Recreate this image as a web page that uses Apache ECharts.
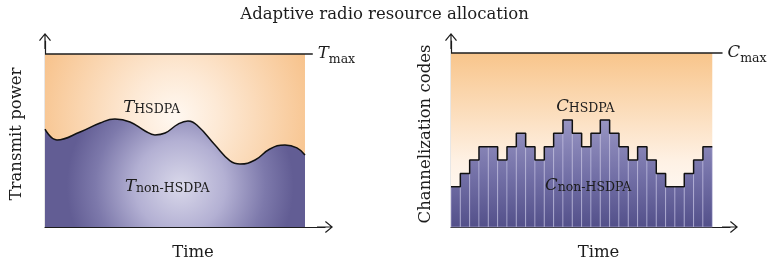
<!DOCTYPE html>
<html>
<head>
<meta charset="utf-8">
<script src="https://cdn.jsdelivr.net/npm/echarts@6/dist/echarts.min.js"></script>
<style>
  html, body { margin: 0; padding: 0; background: #fff; }
  #chart { width: 769px; height: 271px; }
</style>
</head>
<body>
<div id="chart"></div>
<script>
// left panel: transmit power, HSDPA share above the non-HSDPA curve
const timeX = [0, 4.6, 13.5, 21.2, 26.9, 32.7, 38.5, 42.3, 46.2, 51.2, 55, 58.8, 65.4, 71.2, 75, 80.8, 86.5, 92.3, 96.9, 100];
const powerNonHsdpa = [56.6, 50.3, 54.9, 60.1, 62.4, 60.7, 55.5, 53.2, 54.3, 59.5, 61.3, 58.4, 47.4, 38.2, 36.4, 38.7, 45.1, 47.4, 45.7, 41.6];
const tMax = 100;

// right panel: channelization codes per time slot
const codesNonHsdpa = [3, 4, 5, 6, 6, 5, 6, 7, 6, 5, 6, 7, 8, 7, 6, 7, 8, 7, 6, 5, 6, 5, 4, 3, 3, 4, 5, 6];
const cMax = 13;

const titleText = 'Adaptive radio resource allocation';
const axisNames = ['Transmit power', 'Channelization codes', 'Time'];

const SERIF = 'DejaVu Serif';
const INK = '#1c1c1c';

// open chevron arrow with a stem, pointing up
const chevron = 'path://M6,0 L12,7.2 L11,8 L6.6,2.4 L6.6,16 L5.4,16 L5.4,2.4 L1,8 L0,7.2 Z';

function axisLine() {
  return {
    show: true,
    symbol: ['none', chevron],
    symbolSize: [12, 16],
    lineStyle: { color: INK, width: 1.2 }
  };
}

function xAxisFor(grid, max) {
  return {
    type: 'value', gridIndex: grid, min: 0, max: max,
    axisLine: axisLine(), axisTick: { show: false }, axisLabel: { show: false },
    splitLine: { show: false },
    name: axisNames[2], nameLocation: 'middle', nameGap: 17,
    nameTextStyle: { fontFamily: SERIF, fontSize: 16.5, color: INK, padding: [0, 0, 0, 16], verticalAlign: 'top' }
  };
}

function yAxisFor(grid, max, name, gap) {
  return {
    type: 'value', gridIndex: grid, min: 0, max: max,
    axisLine: axisLine(), axisTick: { show: false }, axisLabel: { show: false },
    splitLine: { show: false },
    name: name, nameLocation: 'middle', nameGap: gap,
    nameTextStyle: { fontFamily: SERIF, fontSize: 16.5, color: INK }
  };
}

const rich = {
  i: { fontFamily: SERIF, fontStyle: 'italic', fontSize: 16.5, color: INK },
  s: { fontFamily: SERIF, fontSize: 12.5, color: INK, padding: [4, 0, 0, 0] },
  m: { fontFamily: SERIF, fontSize: 12.5, color: INK, padding: [12, 0, 0, 0] }
};

function tag(letter, sub, x, y) {
  return { coord: [x, y], value: '{i|' + letter + '}{s|' + sub + '}' };
}

const orangeRadial = new echarts.graphic.RadialGradient(0.5, 0.36, 0.85, [
  { offset: 0, color: '#fff8f1' },
  { offset: 0.3, color: '#fde9d5' },
  { offset: 1, color: '#f7c189' }
]);
const purpleRadial = new echarts.graphic.RadialGradient(0.52, 0.62, 1.05, [
  { offset: 0, color: '#d9d8ea' },
  { offset: 0.4, color: '#b3b0d3' },
  { offset: 0.75, color: '#7d79ab' },
  { offset: 1, color: '#625d94' }
]);
const orangeLinear = new echarts.graphic.LinearGradient(0, 0, 0, 1, [
  { offset: 0, color: '#f8c58b' },
  { offset: 0.62, color: '#fef1e4' },
  { offset: 1, color: '#ffffff' }
]);

const chart = echarts.init(document.getElementById('chart'), null, { renderer: 'canvas' });

const option = {
  animation: false,
  backgroundColor: '#fff',
  title: {
    text: titleText, left: 'center', top: 1,
    textStyle: { fontFamily: SERIF, fontSize: 16.5, fontWeight: 'normal', color: INK }
  },
  grid: [
    { left: 45, top: 41, width: 280, height: 186 },
    { left: 451, top: 41, width: 279, height: 186 }
  ],
  xAxis: [xAxisFor(0, 107.7), xAxisFor(1, 29.9)],
  yAxis: [
    yAxisFor(0, 107.5, axisNames[0], 20),
    yAxisFor(1, 13.9, axisNames[1], 17)
  ],
  series: [
    {
      // orange background + T max line
      type: 'line', xAxisIndex: 0, yAxisIndex: 0, data: [], z: 1,
      markArea: {
        silent: true,
        itemStyle: { color: orangeRadial },
        data: [[{ coord: [0, 0] }, { coord: [timeX[timeX.length - 1], tMax] }]]
      },
      markLine: {
        silent: true, symbol: 'none',
        lineStyle: { color: INK, width: 1.5, type: 'solid' },
        label: { position: 'end', distance: 5, formatter: '{i|T}{m|max}', rich: rich },
        data: [[{ coord: [0, tMax] }, { coord: [103, tMax] }]]
      }
    },
    {
      type: 'line', xAxisIndex: 0, yAxisIndex: 0, z: 3,
      data: timeX.map((x, k) => [x, powerNonHsdpa[k]]),
      smooth: 0.45, showSymbol: false,
      lineStyle: { color: '#111', width: 1.5 },
      areaStyle: { color: purpleRadial, opacity: 1 },
      markPoint: {
        symbol: 'circle', symbolSize: 0, silent: true,
        label: { show: true, position: 'inside', formatter: p => p.value, rich: rich },
        data: [tag('T', 'HSDPA', 41, 69), tag('T', 'non-HSDPA', 47, 23)]
      }
    },
    {
      type: 'line', xAxisIndex: 1, yAxisIndex: 1, data: [], z: 1,
      markArea: {
        silent: true,
        itemStyle: { color: orangeLinear },
        data: [[{ coord: [0, 0] }, { coord: [codesNonHsdpa.length, cMax] }]]
      },
      markLine: {
        silent: true, symbol: 'none',
        lineStyle: { color: INK, width: 1.5, type: 'solid' },
        label: { position: 'end', distance: 5, formatter: '{i|C}{m|max}', rich: rich },
        data: [[{ coord: [0, cMax] }, { coord: [29.1, cMax] }]]
      }
    },
    {
      type: 'custom', xAxisIndex: 1, yAxisIndex: 1, z: 2,
      data: codesNonHsdpa.map((v, k) => [k, v]),
      renderItem: function (params, api) {
        const k = api.value(0), v = api.value(1);
        const p0 = api.coord([k, 0]);
        const p1 = api.coord([k + 1, v]);
        const top = api.coord([0, 8])[1];
        const fill = new echarts.graphic.LinearGradient(0, top, 0, p0[1], [
          { offset: 0, color: '#9895c3' },
          { offset: 0.55, color: '#716ea5' },
          { offset: 1, color: '#53508a' }
        ], true);
        return {
          type: 'rect',
          shape: { x: p0[0], y: p1[1], width: p1[0] - p0[0], height: p0[1] - p1[1] },
          style: { fill: fill, stroke: 'rgba(200,198,232,0.5)', lineWidth: 1 }
        };
      }
    },
    {
      type: 'line', xAxisIndex: 1, yAxisIndex: 1, z: 3,
      data: codesNonHsdpa.map((v, k) => [k, v]).concat([[codesNonHsdpa.length, codesNonHsdpa[codesNonHsdpa.length - 1]]]),
      step: 'end', showSymbol: false,
      lineStyle: { color: '#111', width: 1.5 },
      markPoint: {
        symbol: 'circle', symbolSize: 0, silent: true,
        label: { show: true, position: 'inside', formatter: p => p.value, rich: rich },
        data: [tag('C', 'HSDPA', 14.4, 9.0), tag('C', 'non-HSDPA', 14.7, 3.1)]
      }
    }
  ]
};

chart.setOption(option);
</script>
</body>
</html>
